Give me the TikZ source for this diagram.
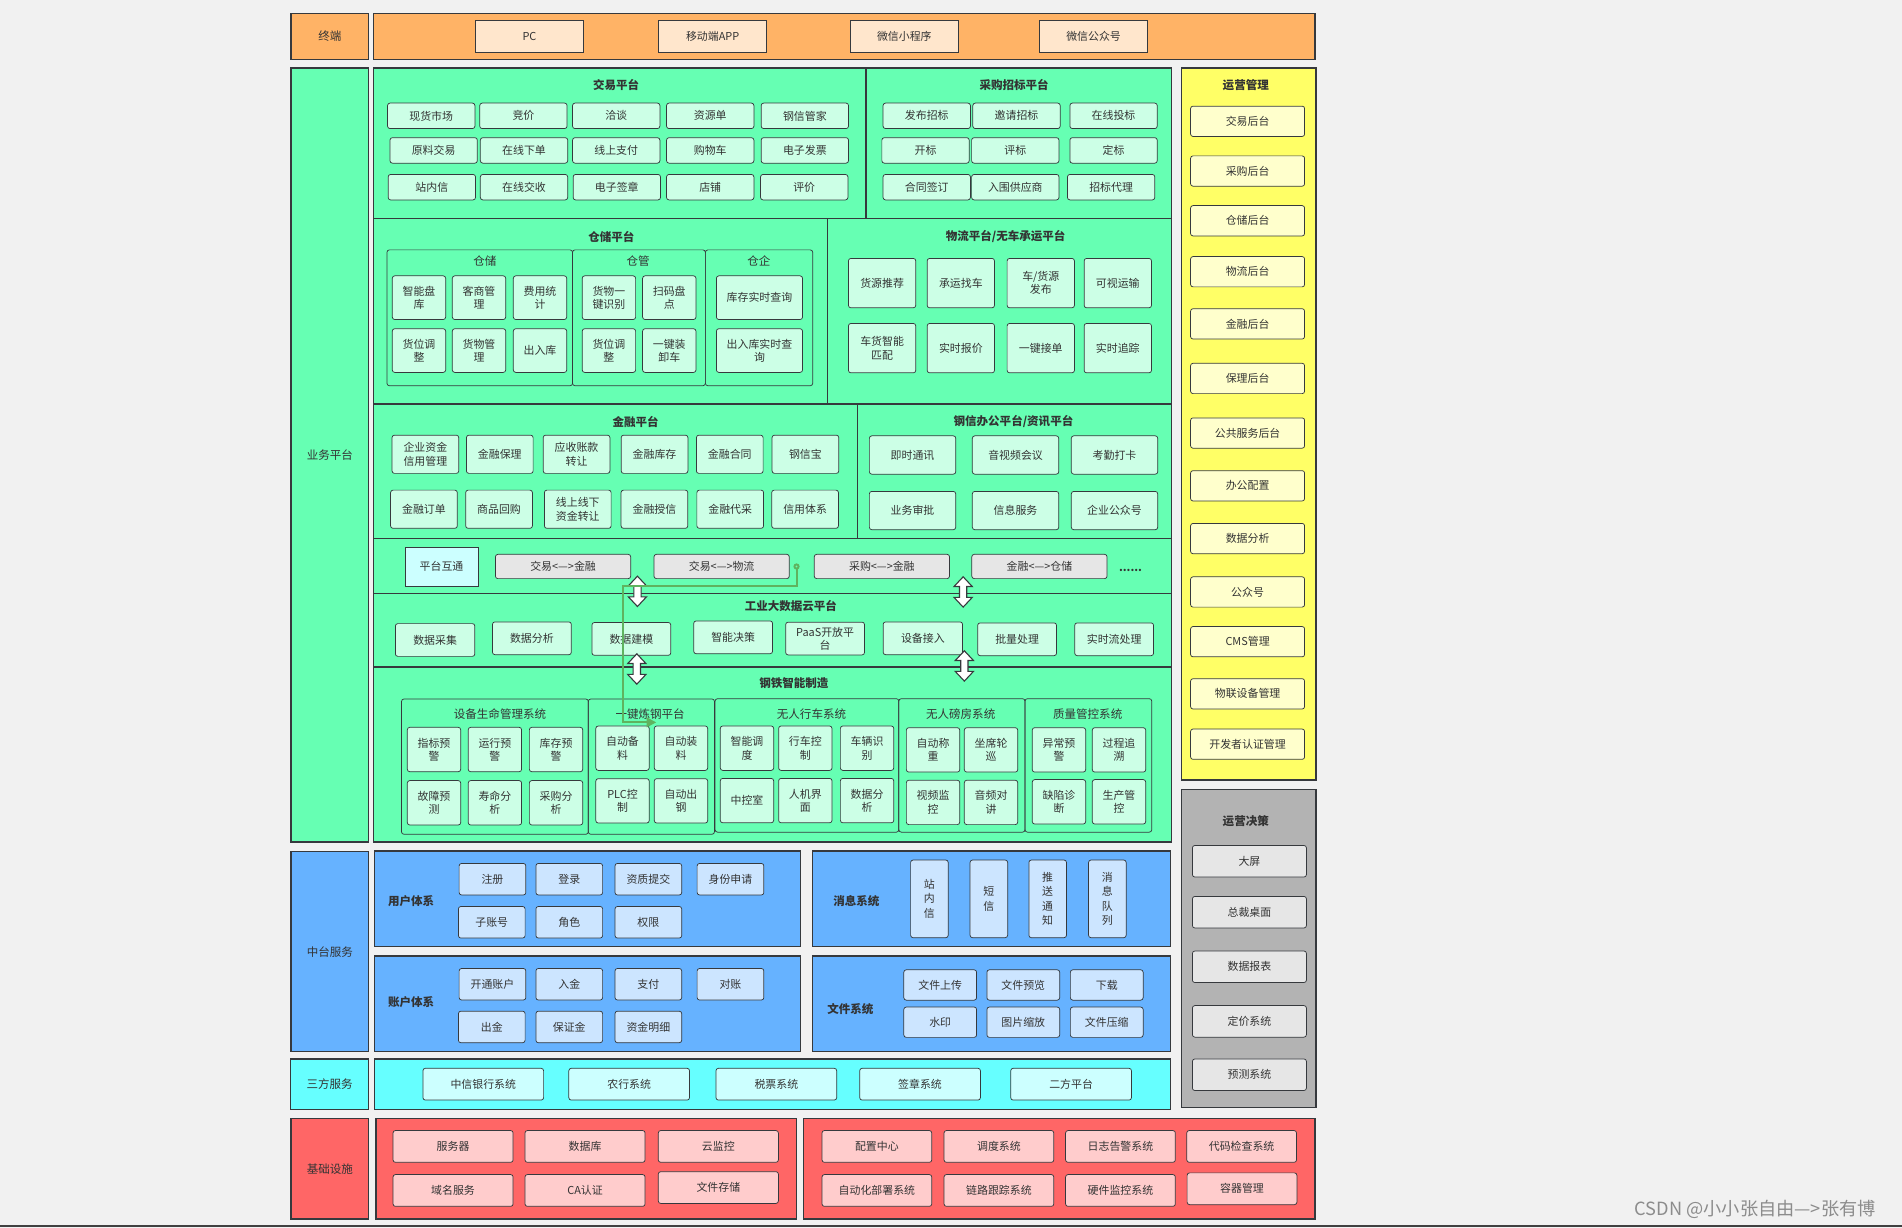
\documentclass[tikz,border=0pt]{standalone}
\usepackage{fontspec}
\setmainfont{Noto Sans CJK SC}
\usetikzlibrary{arrows.meta}

\definecolor{bgc}{HTML}{F1F1F1}
\definecolor{lnc}{HTML}{36393D}
\definecolor{orgA}{HTML}{FFB366}
\definecolor{orgB}{HTML}{FFE6CC}
\definecolor{grnA}{HTML}{66FFB3}
\definecolor{grnB}{HTML}{CCFFE6}
\definecolor{yelA}{HTML}{FFFF66}
\definecolor{yelB}{HTML}{FFFFCC}
\definecolor{gryA}{HTML}{B3B3B3}
\definecolor{gryB}{HTML}{E6E6E6}
\definecolor{bluA}{HTML}{66B2FF}
\definecolor{bluB}{HTML}{CCE5FF}
\definecolor{cyaA}{HTML}{66FFFF}
\definecolor{cyaB}{HTML}{CCFFFF}
\definecolor{redA}{HTML}{FF6666}
\definecolor{redB}{HTML}{FFCCCC}
\definecolor{lnkc}{HTML}{5FB35F}

\begin{document}
\begin{tikzpicture}[x=1pt, y=-1pt,
  every node/.style={font=\fontsize{9}{11}\selectfont, text=black!80, inner sep=0pt, outer sep=0pt, align=center},
  band/.style={draw=lnc, line width=1.1pt, fill=#1},
  cell/.style={draw=lnc, line width=0.6pt, rounded corners=2pt, fill=#1},
  grp/.style={draw=lnc, line width=0.6pt, rounded corners=2pt},
  ttl/.style={font=\fontsize{9.5}{11}\selectfont\bfseries},
  sub/.style={font=\fontsize{9.5}{11}\selectfont},
  sz/.style 2 args={minimum width=#1, minimum height=#2},
  gline/.style={draw=lnkc, line width=1.6pt, {Circle[open,length=5pt,width=5pt]}-{Triangle[length=8pt,width=8pt]}},
  dblarr/.pic={\draw[fill=white, draw=lnc, line width=0.9pt] (0,-12.5) -- (7.5,-4.5) -- (3,-4.5) -- (3,4.5) -- (7.5,4.5) -- (0,12.5) -- (-7.5,4.5) -- (-3,4.5) -- (-3,-4.5) -- (-7.5,-4.5) -- cycle;}
]
  \fill[bgc] (0,0) rectangle (1568,1012);
  \useasboundingbox (0,0) rectangle (1568,1012);

  % Terminal row
  \node[band=orgA, sz={64}{38}, sub] (zd) at (272,30) {终端};
  \node[band=orgA, sz={776}{38}] (zdbar) at (696,30) {};
  \foreach \x/\t [count=\i] in {436.5/PC, 587.5/移动端APP, 745.5/微信小程序, 901.5/微信公众号}
    \node[cell=orgB, sz={89}{26}, rounded corners=0pt] (zd\i) at (\x,30) {\t};

  % Business platforms
  \node[band=grnA, sz={64}{638}, sub] (yw) at (272,375) {业务平台};
  \node[band=grnA, sz={406}{124}] (jypt) at (511,118) {};
  \node[band=grnA, sz={252}{124}] (cgpt) at (840,118) {};
  \node[band=grnA, sz={374}{153}] (ccpt) at (495,256.5) {};
  \node[band=grnA, sz={284}{153}] (wlpt) at (824,256.5) {};
  \node[band=grnA, sz={399}{111}] (jrpt) at (507.5,388.5) {};
  \node[band=grnA, sz={259}{111}] (bgpt) at (836.5,388.5) {};
  \node[band=grnA, sz={658}{45}] (htpt) at (637,466.5) {};
  \node[band=grnA, sz={658}{61}] (dspt) at (637,519.5) {};
  \node[band=grnA, sz={658}{144}] (zzpt) at (637,622) {};

  \node[ttl] (jypt-t) at (508,70) {交易平台};
  \node[ttl] (cgpt-t) at (836,70) {采购招标平台};
  \node[ttl] (ccpt-t) at (504,195) {仓储平台};
  \node[ttl] (wlpt-t) at (829,195) {物流平台/无车承运平台};
  \node[ttl] (jrpt-t) at (524,347.5) {金融平台};
  \node[ttl] (bgpt-t) at (835.5,347.5) {钢信办公平台/资讯平台};
  \node[ttl] (dspt-t) at (652,500) {工业大数据云平台};
  \node[ttl] (zzpt-t) at (654.5,563.5) {钢铁智能制造};

  % trading
  \foreach \x/\t [count=\i] in {355.5/现货市场, 431.5/竞价, 508/洽谈, 585.5/资源单, 663.5/钢信管家}
    \node[cell=grnB, sz={72}{21}] (jya\i) at (\x,95.5) {\t};
  \foreach \x/\t [count=\i] in {357.5/原料交易, 432/在线下单, 508/线上支付, 585.5/购物车, 663.5/电子发票}
    \node[cell=grnB, sz={72}{21}] (jyb\i) at (\x,124) {\t};
  \foreach \x/\t [count=\i] in {356/站内信, 432/在线交收, 508.5/电子签章, 585.5/店铺, 663/评价}
    \node[cell=grnB, sz={72}{21}] (jyc\i) at (\x,154.3) {\t};

  % purchasing
  \foreach \x/\t [count=\i] in {764/发布招标, 838/邀请招标, 918/在线投标}
    \node[cell=grnB, sz={72}{21}] (cga\i) at (\x,95.5) {\t};
  \foreach \x/\t [count=\i] in {763/开标, 837/评标, 918/定标}
    \node[cell=grnB, sz={72}{21}] (cgb\i) at (\x,124) {\t};
  \foreach \x/\t [count=\i] in {764/合同签订, 837/入围供应商, 916/招标代理}
    \node[cell=grnB, sz={72}{21}] (cgc\i) at (\x,154.3) {\t};

  % warehouse
  \node[grp, sz={153}{112}] (cca) at (395.5,262) {};
  \node[grp, sz={109.5}{112}] (ccb) at (526.75,262) {};
  \node[grp, sz={88.5}{112}] (ccc) at (625.75,262) {};
  \node[sub] (cca-t) at (399.8,215) {仓储};
  \node[sub] (ccb-t) at (526,215) {仓管};
  \node[sub] (ccc-t) at (625.7,215) {仓企};
  \foreach \x/\t [count=\i] in {345.4/{智能盘\\库}, 394.9/{客商管\\理}, 445.2/{费用统\\计}}
    \node[cell=grnB, sz={44}{36}] (ccaa\i) at (\x,245.4) {\t};
  \foreach \x/\t [count=\i] in {345.4/{货位调\\整}, 394.9/{货物管\\理}, 445.2/出入库}
    \node[cell=grnB, sz={44}{36}] (ccab\i) at (\x,289) {\t};
  \foreach \x/\t [count=\i] in {502/{货物一\\键识别}, 551.75/{扫码盘\\点}}
    \node[cell=grnB, sz={44}{36}] (ccba\i) at (\x,245.4) {\t};
  \foreach \x/\t [count=\i] in {502/{货位调\\整}, 551.75/{一键装\\卸车}}
    \node[cell=grnB, sz={44}{36}] (ccbb\i) at (\x,289) {\t};
  \node[cell=grnB, sz={71}{36}] (ccca) at (626.1,245.4) {库存实时查询};
  \node[cell=grnB, sz={71}{36}] (cccb) at (626.1,289) {出入库实时查\\询};

  % logistics
  \foreach \x/\t [count=\i] in {727.2/货源推荐, 792.1/承运找车, 858/{车/货源\\发布}, 921.5/可视运输}
    \node[cell=grnB, sz={55.5}{40.7}] (wla\i) at (\x,233.4) {\t};
  \foreach \x/\t [count=\i] in {727.2/{车货智能\\匹配}, 792.1/实时报价, 858/一键接单, 921.5/实时追踪}
    \node[cell=grnB, sz={55.5}{40.7}] (wlb\i) at (\x,287) {\t};

  % finance
  \foreach \x/\t [count=\i] in {350.7/{企业资金\\信用管理}, 412/金融保理, 475.3/{应收账款\\转让}, 539.6/金融库存, 601.6/金融合同, 664/钢信宝}
    \node[cell=grnB, sz={55}{31.5}] (jra\i) at (\x,374.5) {\t};
  \foreach \x/\t [count=\i] in {349.5/金融订单, 411.4/商品回购, 476.3/{线上线下\\资金转让}, 539.5/金融授信, 602/金融代采, 663.7/信用体系}
    \node[cell=grnB, sz={55}{31.5}] (jrb\i) at (\x,419.8) {\t};

  % office
  \foreach \x/\t [count=\i] in {752.3/即时通讯, 837.2/音视频会议, 918.8/考勤打卡}
    \node[cell=grnB, sz={71.2}{31.6}] (bga\i) at (\x,375.1) {\t};
  \foreach \x/\t [count=\i] in {752.3/业务审批, 837.2/信息服务, 918.8/企业公众号}
    \node[cell=grnB, sz={71.2}{31.6}] (bgb\i) at (\x,420.9) {\t};

  % interconnection
  \node[cell=cyaB, sz={60}{32}, rounded corners=0pt] (ptht) at (364,467) {平台互通};
  \foreach \x/\t [count=\i] in {464.2/交易<—>金融, 594.9/交易<—>物流, 727/采购<—>金融, 856.9/金融<—>仓储}
    \node[cell=gryB, sz={111.5}{20}] (hta\i) at (\x,467) {\t};
  \node (htmore) at (932,470) {\textbf{......}};

  % big data
  \node[cell=grnB, sz={65.5}{27}] (dsa1) at (358.7,527.6) {数据采集};
  \node[cell=grnB, sz={65}{27}] (dsa2) at (438.5,526.2) {数据分析};
  \node[cell=grnB, sz={65}{27}] (dsa3) at (520.5,526.7) {数据建模};
  \node[cell=grnB, sz={65}{27}] (dsa4) at (604.4,525.4) {智能决策};
  \node[cell=grnB, sz={65}{27}] (dsa5) at (680.2,526.4) {PaaS开放平\\台};
  \node[cell=grnB, sz={65.5}{27}] (dsa6) at (760.8,526.2) {设备接入};
  \node[cell=grnB, sz={65}{27}] (dsa7) at (838.5,527) {批量处理};
  \node[cell=grnB, sz={65}{27}] (dsa8) at (918.5,527) {实时流处理};

  % steel manufacturing
  \node[grp, sz={154}{111.5}] (zza) at (408,632) {};
  \node[grp, sz={104}{111.5}] (zzb) at (537,632) {};
  \node[grp, sz={151.5}{110}] (zzc) at (665.25,631) {};
  \node[grp, sz={104}{110}] (zzd) at (793,631) {};
  \node[grp, sz={104.5}{110}] (zze) at (897.25,631) {};
  \node[sub] (zza-t) at (412.2,589) {设备生命管理系统};
  \node[sub] (zzb-t) at (536,589) {一键炼钢平台};
  \node[sub] (zzc-t) at (669,589) {无人行车系统};
  \node[sub] (zzd-t) at (792,589) {无人磅房系统};
  \node[sub] (zze-t) at (896.7,589) {质量管控系统};
  \foreach \x/\t [count=\i] in {357.8/{指标预\\警}, 408/{运行预\\警}, 458.4/{库存预\\警}}
    \node[cell=grnB, sz={44}{36.6}] (zzaa\i) at (\x,617.9) {\t};
  \foreach \x/\t [count=\i] in {357.8/{故障预\\测}, 408/{寿命分\\析}, 458.4/{采购分\\析}}
    \node[cell=grnB, sz={44}{36.6}] (zzab\i) at (\x,661.8) {\t};
  \foreach \x/\t [count=\i] in {513.2/{自动备\\料}, 561.4/{自动装\\料}}
    \node[cell=grnB, sz={44}{36.6}] (zzba\i) at (\x,616.8) {\t};
  \foreach \x/\t [count=\i] in {513.2/{PLC控\\制}, 561.4/{自动出\\钢}}
    \node[cell=grnB, sz={44}{36.6}] (zzbb\i) at (\x,660.2) {\t};
  \foreach \x/\t [count=\i] in {615.8/{智能调\\度}, 663.9/{行车控\\制}, 714.8/{车辆识\\别}}
    \node[cell=grnB, sz={44}{36.6}] (zzca\i) at (\x,616.8) {\t};
  \foreach \x/\t [count=\i] in {615.8/中控室, 663.9/{人机界\\面}, 714.8/{数据分\\析}}
    \node[cell=grnB, sz={44}{36.6}] (zzcb\i) at (\x,660) {\t};
  \foreach \x/\t [count=\i] in {769.2/{自动称\\重}, 817/{坐席轮\\巡}}
    \node[cell=grnB, sz={44}{36.6}] (zzda\i) at (\x,618.2) {\t};
  \foreach \x/\t [count=\i] in {769.2/{视频监\\控}, 817/{音频对\\讲}}
    \node[cell=grnB, sz={44}{36.6}] (zzdb\i) at (\x,661.5) {\t};
  \foreach \x/\t [count=\i] in {873/{异常预\\警}, 922.5/{过程追\\溯}}
    \node[cell=grnB, sz={44}{36.6}] (zzea\i) at (\x,618.2) {\t};
  \foreach \x/\t [count=\i] in {873/{缺陷诊\\断}, 922.5/{生产管\\控}}
    \node[cell=grnB, sz={44}{36.6}] (zzeb\i) at (\x,661) {\t};

  % block arrows between layers
  \pic (arra) at (525.5,487.5) {dblarr};
  \pic (arrb) at (794,488) {dblarr};
  \pic (arrc) at (525,551.5) {dblarr};
  \pic (arrd) at (795,549) {dblarr};

  % link trading/logistics -> steel making
  \coordinate (lkst) at ([xshift=6pt,yshift=2.5pt]hta2.east);
  \coordinate (lkend) at (541,595.5);
  \draw[gline] (lkst) |- (513.7,482.8) |- (lkend);

  % Operation management
  \node[band=yelA, sz={111}{587}] (yygl) at (1029.5,349.5) {};
  \node[ttl] (yygl-t) at (1027,70) {运营管理};
  \foreach \y/\t [count=\i] in {100/交易后台, 141/采购后台, 182/仓储后台, 224/物流后台, 267/金融后台, 312/保理后台, 357/公共服务后台, 400.5/办公配置, 444/数据分析, 488/公众号, 529/CMS管理, 572/物联设备管理, 613.5/开发者认证管理}
    \node[cell=yelB, sz={94}{25}] (yy\i) at (1028.5,\y) {\t};

  % Operation decisions
  \node[band=gryA, sz={111}{262}] (yyjc) at (1029.5,782) {};
  \node[ttl] (yyjc-t) at (1027,677) {运营决策};
  \foreach \y/\t [count=\i] in {710/大屏, 752/总裁桌面, 797/数据报表, 842/定价系统, 886/预测系统}
    \node[cell=gryB, sz={94}{26}] (jc\i) at (1030,\y) {\t};

  % Middle services
  \node[band=bluA, sz={64}{165}, sub] (ztfw) at (272,784.5) {中台服务};
  \node[band=bluA, sz={351}{79}] (yhtx) at (484.5,741) {};
  \node[band=bluA, sz={295}{79}] (xxxt) at (817.5,741) {};
  \node[band=bluA, sz={351}{79}] (zhtx) at (484.5,827.5) {};
  \node[band=bluA, sz={295}{79}] (wjxt) at (817.5,827.5) {};
  \node[ttl] (yhtx-t) at (339,743) {用户体系};
  \node[ttl] (zhtx-t) at (339,826.3) {账户体系};
  \node[ttl] (xxxt-t) at (706,743) {消息系统};
  \node[ttl] (wjxt-t) at (701,832) {文件系统};
  \foreach \x/\t [count=\i] in {406/注册, 469.3/登录, 534.5/资质提交, 602.2/身份申请}
    \node[cell=bluB, sz={55}{26}] (yha\i) at (\x,724.8) {\t};
  \foreach \x/\t [count=\i] in {405.4/子账号, 469.3/角色, 534.5/权限}
    \node[cell=bluB, sz={55}{26}] (yhb\i) at (\x,760.3) {\t};
  \foreach \x/\t [count=\i] in {406/开通账户, 469.3/入金, 534.5/支付, 602.2/对账}
    \node[cell=bluB, sz={55}{26}] (zha\i) at (\x,811.4) {\t};
  \foreach \x/\t [count=\i] in {405.4/出金, 469.3/保证金, 534.5/资金明细}
    \node[cell=bluB, sz={55}{26}] (zhb\i) at (\x,846.6) {\t};
  \foreach \x/\t [count=\i] in {766.2/{站\\内\\信}, 815.2/{短\\信}, 863.7/{推\\送\\通\\知}, 912.9/{消\\息\\队\\列}}
    \node[cell=bluB, sz={31}{64}, font=\fontsize{9}{12}\selectfont] (xx\i) at (\x,741) {\t};
  \foreach \x/\t [count=\i] in {775.1/文件上传, 843.6/文件预览, 912.4/下载}
    \node[cell=bluB, sz={60}{25}] (wja\i) at (\x,812) {\t};
  \foreach \x/\t [count=\i] in {775.1/水印, 843.6/图片缩放, 912.4/文件压缩}
    \node[cell=bluB, sz={60}{25}] (wjb\i) at (\x,842.7) {\t};

  % Third-party services
  \node[band=cyaA, sz={64.6}{41.5}, sub] (sffw) at (271.7,893.7) {三方服务};
  \node[band=cyaA, sz={656}{41.5}] (sfbar) at (636.7,893.7) {};
  \foreach \x/\t [count=\i] in {398.4/中信银行系统, 518.7/农行系统, 640/税票系统, 758.5/签章系统, 883/二方平台}
    \node[cell=cyaB, sz={99.5}{26.2}] (sf\i) at (\x,893.8) {\t};

  % Infrastructure
  \node[band=redA, sz={64}{83}, sub] (jcss) at (272,963.5) {基础设施};
  \node[band=redA, sz={346.7}{83}] (jcsa) at (483.2,963.5) {};
  \node[band=redA, sz={421.5}{83}] (jcsb) at (873.3,963.5) {};
  \foreach \x/\t [count=\i] in {373.5/服务器, 482.3/数据库, 592.2/云监控}
    \node[cell=redB, sz={99}{26.2}] (jsa\i) at (\x,945.1) {\t};
  \node[cell=redB, sz={99}{26.2}] (jsb1) at (373.5,981.4) {域名服务};
  \node[cell=redB, sz={99}{26.2}] (jsb2) at (482.3,981.4) {CA认证};
  \node[cell=redB, sz={99}{26.2}] (jsb3) at (592.2,979) {文件存储};
  \foreach \x/\t [count=\i] in {722.9/配置中心, 823.5/调度系统, 923.7/日志告警系统, 1023.6/代码检查系统}
    \node[cell=redB, sz={90.5}{26.2}] (jsc\i) at (\x,945.1) {\t};
  \foreach \x/\t [count=\i] in {722.9/自动化部署系统, 823.5/链路跟踪系统, 923.7/硬件监控系统}
    \node[cell=redB, sz={90.5}{26.2}] (jsd\i) at (\x,981.4) {\t};
  \node[cell=redB, sz={90.5}{26.2}] (jsd4) at (1023.9,980) {容器管理};

  % watermark and bottom edge
  \node[font=\fontsize{15}{17}\selectfont, text=black!45] (wm) at (1447,997) {CSDN @小小张自由—>张有博};
  \draw[line width=1.5pt, black!75] (0,1010.6) -- (1568,1010.6);
\end{tikzpicture}
\end{document}
